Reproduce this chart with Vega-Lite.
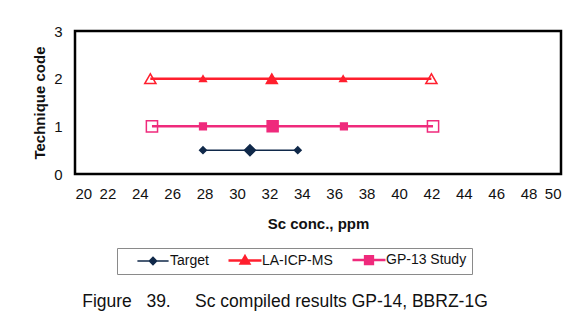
{
  "$schema": "https://vega.github.io/schema/vega-lite/v6.json",
  "width": 486,
  "height": 143,
  "autosize": "none",
  "padding": {"left": 75, "top": 31, "right": 18, "bottom": 155},
  "background": "white",
  "title": {
    "text": "Figure\u00a0\u00a0\u00a039.\u00a0\u00a0\u00a0\u00a0\u00a0Sc compiled results GP-14, BBRZ-1G",
    "orient": "bottom",
    "anchor": "middle",
    "dx": -33,
    "offset": 18,
    "font": "Liberation Sans",
    "fontSize": 17.5,
    "fontWeight": "normal",
    "color": "#111"
  },
  "data": {
    "values": [
      {"series": "Target", "conc": 27.9, "code": 0.5, "role": "point"},
      {"series": "Target", "conc": 30.8, "code": 0.5, "role": "center"},
      {"series": "Target", "conc": 33.75, "code": 0.5, "role": "point"},
      {"series": "LA-ICP-MS", "conc": 24.65, "code": 2, "role": "bound"},
      {"series": "LA-ICP-MS", "conc": 27.9, "code": 2, "role": "point"},
      {"series": "LA-ICP-MS", "conc": 32.15, "code": 2, "role": "center"},
      {"series": "LA-ICP-MS", "conc": 36.55, "code": 2, "role": "point"},
      {"series": "LA-ICP-MS", "conc": 42.0, "code": 2, "role": "bound"},
      {"series": "GP-13 Study", "conc": 24.75, "code": 1, "role": "bound"},
      {"series": "GP-13 Study", "conc": 27.9, "code": 1, "role": "point"},
      {"series": "GP-13 Study", "conc": 32.2, "code": 1, "role": "center"},
      {"series": "GP-13 Study", "conc": 36.6, "code": 1, "role": "point"},
      {"series": "GP-13 Study", "conc": 42.1, "code": 1, "role": "bound"}
    ]
  },
  "encoding": {
    "x": {
      "field": "conc", "type": "quantitative",
      "scale": {"domain": [20, 50], "nice": false, "zero": false},
      "axis": {"values": [20,22,24,26,28,30,32,34,36,38,40,42,44,46,48,50], "title": "Sc conc., ppm", "labelPadding": 12, "titlePadding": 15}
    },
    "y": {
      "field": "code", "type": "quantitative",
      "scale": {"domain": [0, 3], "nice": false},
      "axis": {"values": [0, 1, 2, 3], "title": "Technique code", "labelPadding": 13, "titlePadding": 6}
    }
  },
  "layer": [
    {
      "mark": {"type": "line"},
      "encoding": {
        "detail": {"field": "series"},
        "stroke": {"field": "series", "type": "nominal", "legend": null,
          "scale": {"domain": ["Target", "LA-ICP-MS", "GP-13 Study"], "range": ["#10294a", "#ff1f2e", "#ef2a7c"]}},
        "strokeWidth": {"field": "series", "type": "nominal", "legend": null,
          "scale": {"type": "ordinal", "domain": ["Target", "LA-ICP-MS", "GP-13 Study"], "range": [1.5, 2.5, 2.5]}}
      }
    },
    {
      "mark": {"type": "point", "strokeWidth": 1.5, "opacity": 1},
      "encoding": {
        "shape": {"field": "series", "type": "nominal", "legend": null,
          "scale": {"domain": ["Target", "LA-ICP-MS", "GP-13 Study"], "range": ["diamond", "triangle-up", "square"]}},
        "size": {"field": "role", "type": "ordinal", "legend": null,
          "scale": {"type": "ordinal", "domain": ["bound", "point", "center"], "range": [125, 45, 120]}},
        "stroke": {"field": "series", "type": "nominal", "legend": null},
        "fill": {
          "condition": {"test": "datum.role === 'bound'", "value": "transparent"},
          "field": "series", "type": "nominal", "legend": null,
          "scale": {"domain": ["Target", "LA-ICP-MS", "GP-13 Study"], "range": ["#10294a", "#ff1f2e", "#ef2a7c"]}
        }
      }
    },
    {
      "mark": {"type": "point", "opacity": 0, "filled": true},
      "encoding": {
        "shape": {"field": "series", "type": "nominal",
          "scale": {"domain": ["Target", "LA-ICP-MS", "GP-13 Study"], "range": [
            "M-2.6,0H2.6M0,-0.6L0.6,0L0,0.6L-0.6,0Z",
            "M-2.75,0H2.75M0,-0.7L0.7,0.5L-0.7,0.5Z",
            "M-2.75,0H2.75M-0.65,-0.65H0.65V0.65H-0.65Z"
          ]},
          "legend": {
            "orient": "none", "legendX": 42, "legendY": 217, "direction": "horizontal", "columns": 3,
            "title": null, "symbolSize": 144, "symbolOffset": 24, "labelOffset": 10, "columnPadding": 5,
            "padding": 5, "strokeColor": "#8a8a8a", "fillColor": "white", "symbolOpacity": 1,
            "symbolFillColor": {"expr": "scale('stroke', datum.value)"},
            "symbolStrokeColor": {"expr": "scale('stroke', datum.value)"},
            "symbolStrokeWidth": {"expr": "datum.value === 'Target' ? 1.5 : 2.5"},
            "labelFont": "Liberation Sans", "labelFontSize": 14, "labelColor": "#111",
            "labelExpr": "datum.label + (datum.value === 'GP-13 Study' ? '\u00a0\u00a0\u00a0\u00a0' : '\u00a0')"
          }
        },
        "fill": {"field": "series", "type": "nominal", "legend": null},
        "stroke": {"field": "series", "type": "nominal", "legend": null}
      }
    }
  ],
  "resolve": {"scale": {"shape": "independent"}},
  "config": {
    "view": {"stroke": "black", "strokeWidth": 2.5},
    "axis": {
      "domain": false, "ticks": false, "grid": false,
      "labelFont": "Liberation Sans", "labelFontSize": 15, "labelColor": "#111",
      "titleFont": "Liberation Sans", "titleFontSize": 15, "titleFontWeight": "bold", "titleColor": "#111"
    }
  }
}
